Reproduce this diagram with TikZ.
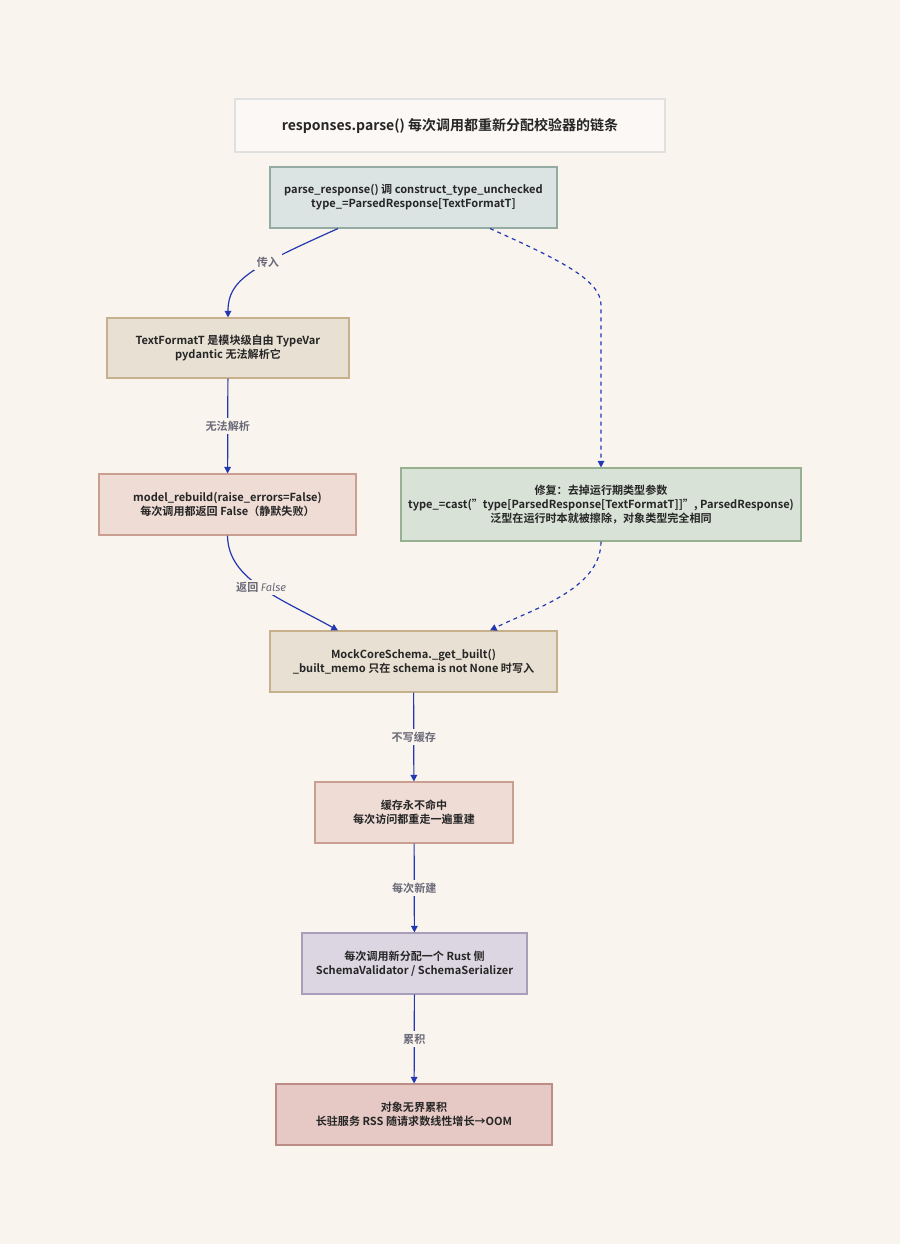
\documentclass[tikz,border=0pt]{standalone}
\usepackage{fontspec}
\setmainfont{Noto Sans CJK SC}[BoldFont={Noto Sans CJK SC Bold}]
\newfontfamily\lat{Fira Sans}
\usetikzlibrary{arrows.meta,calc}
\definecolor{bg}{HTML}{F9F4EE}
\definecolor{arr}{HTML}{2338B0}
\definecolor{lbl}{HTML}{6A6A78}
\definecolor{callfill}{HTML}{DCE4E3}\definecolor{calldraw}{HTML}{93ABA3}
\definecolor{tanfill}{HTML}{E8E0D2}\definecolor{tandraw}{HTML}{C6B18C}
\definecolor{rosefill}{HTML}{EEDCD5}\definecolor{rosedraw}{HTML}{CB9E92}
\definecolor{fixfill}{HTML}{D8E2D6}\definecolor{fixdraw}{HTML}{96B091}
\definecolor{lilfill}{HTML}{DCD6E2}\definecolor{lildraw}{HTML}{A69EBA}
\definecolor{oomfill}{HTML}{E6C9C5}\definecolor{oomdraw}{HTML}{BC8D86}
\tikzset{
  box/.style={draw, line width=0.8pt, align=center, font=\fontsize{8.3}{10.5}\selectfont\bfseries, text=black!85, inner sep=0pt},
  flow/.style={draw=arr, line width=0.9pt, -{Triangle[length=5pt,width=5pt]}},
  tag/.style={fill=bg, text=lbl, font=\fontsize{8.3}{10}\selectfont\bfseries, inner sep=2pt}
}
\begin{document}
\begin{tikzpicture}[x=0.75pt,y=-0.75pt]
\fill[bg] (0,0) rectangle (900,1244);
\useasboundingbox (0,0) rectangle (900,1244);

% boxes
\node[box, fill=white!40!bg, draw=black!12, minimum width=430*0.75pt, minimum height=53*0.75pt, font=\fontsize{10.5}{12}\selectfont\bfseries] (title) at (450,125.5) {responses.parse() 每次调用都重新分配校验器的链条};
\node[box, fill=callfill, draw=calldraw, minimum width=287*0.75pt, minimum height=61*0.75pt] (call) at (413.5,197.5) {parse\_response() 调 construct\_type\_unchecked\\type\_=ParsedResponse[TextFormatT]};
\node[box, fill=tanfill, draw=tandraw, minimum width=242*0.75pt, minimum height=60*0.75pt] (tvar) at (228,348) {TextFormatT 是模块级自由 TypeVar\\pydantic 无法解析它};
\node[box, fill=rosefill, draw=rosedraw, minimum width=257*0.75pt, minimum height=61*0.75pt] (rebuild) at (227.5,504.5) {model\_rebuild(raise\_errors=False)\\每次调用都返回 False（静默失败）};
\node[box, fill=fixfill, draw=fixdraw, minimum width=400*0.75pt, minimum height=73*0.75pt] (fix) at (601,504.5) {修复：去掉运行期类型参数\\type\_=cast("type[ParsedResponse[TextFormatT]]", ParsedResponse)\\泛型在运行时本就被擦除，对象类型完全相同};
\node[box, fill=tanfill, draw=tandraw, minimum width=287*0.75pt, minimum height=61*0.75pt] (mock) at (413.5,661.5) {MockCoreSchema.\_get\_built()\\\_built\_memo 只在 schema is not None 时写入};
\node[box, fill=rosefill, draw=rosedraw, minimum width=198*0.75pt, minimum height=61*0.75pt] (miss) at (414,812.5) {缓存永不命中\\每次访问都重走一遍重建};
\node[box, fill=lilfill, draw=lildraw, minimum width=225*0.75pt, minimum height=61*0.75pt] (alloc) at (414.5,963.5) {每次调用新分配一个 Rust 侧\\SchemaValidator / SchemaSerializer};
\node[box, fill=oomfill, draw=oomdraw, minimum width=276*0.75pt, minimum height=61*0.75pt] (oom) at (414,1114.5) {对象无界累积\\长驻服务 RSS 随请求数线性增长→OOM};

% connectors
\draw[flow] ([xshift=-75.5*0.75pt]call.south) .. controls (250,268) and (228,280) .. (tvar.north)
  node[tag, pos=0.35] {传入};
\draw[flow] (tvar) -- node[tag] {无法解析} (rebuild);
\draw[flow] (rebuild.south) .. controls (228,580) and (280,598) .. ([xshift=-75.5*0.75pt]mock.north)
  node[tag, pos=0.5] {返回 {\lat\itshape\mdseries False}};
\draw[flow, dashed] ([xshift=76.5*0.75pt]call.south) .. controls (560,260) and (601,280) .. (601,305) -- (fix.north);
\draw[flow, dashed] (fix.south) .. controls (601,590) and (530,610) .. ([xshift=76.5*0.75pt]mock.north);
\draw[flow] (mock) -- node[tag] {不写缓存} (miss);
\draw[flow] (miss) -- node[tag] {每次新建} (alloc);
\draw[flow] (alloc) -- node[tag] {累积} (oom);
\end{tikzpicture}
\end{document}
